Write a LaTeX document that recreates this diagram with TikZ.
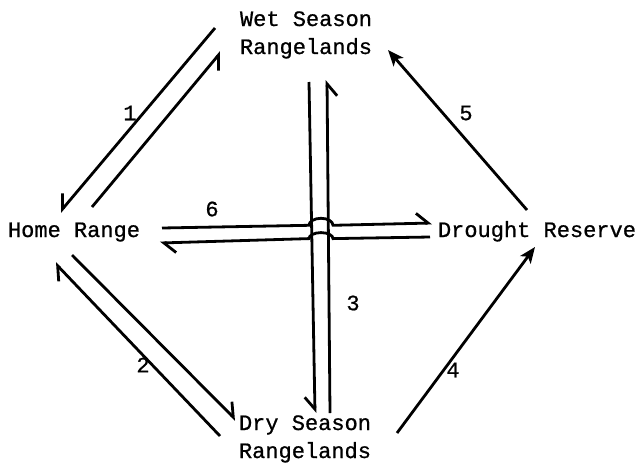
\documentclass[tikz,border=0pt]{standalone}
\usepackage{fontspec}
\newfontfamily\typer[FakeBold=0.8]{Liberation Mono}
\usetikzlibrary{arrows.meta}

\begin{document}
\begin{tikzpicture}[x=1pt,y=-1pt,
  place/.style={font=\typer\fontsize{22}{28}\selectfont,align=center,inner sep=0pt},
  num/.style={font=\typer\fontsize{22}{28}\selectfont,inner sep=0pt},
  flowl/.style={line width=2.8pt,-{Straight Barb[harpoon,length=12pt,width=20pt]}},
  flowr/.style={line width=2.8pt,-{Straight Barb[harpoon,swap,length=12pt,width=20pt]}},
  move/.style={line width=2.8pt,-{Stealth[length=16pt,width=13pt,inset=4pt]}}]
  \useasboundingbox (0,0) rectangle (637,464);
  % the four ranges
  \node[place,anchor=base] (wet) at (306,54) {Wet Season\\Rangelands};
  \node[place,anchor=base] (home) at (74,237) {Home Range};
  \node[place,anchor=base] (drought) at (537,237) {Drought Reserve};
  \node[place,anchor=base] (dry) at (305,458) {Dry Season\\Rangelands};
  % end points of the moves
  \coordinate (a1) at (215,28);  \coordinate (a2) at (60,212);
  \coordinate (b1) at (92,207);  \coordinate (b2) at (221,52);
  \coordinate (c1) at (72,255);  \coordinate (c2) at (236,420);
  \coordinate (d1) at (220,436); \coordinate (d2) at (55,263);
  \coordinate (e1) at (309,82);  \coordinate (e2) at (315,413);
  \coordinate (f1) at (330,413); \coordinate (f2) at (327,80);
  \coordinate (g1) at (162,228); \coordinate (g2) at (432,223);
  \coordinate (h1) at (430,237); \coordinate (h2) at (160,243);
  \coordinate (k1) at (397,433); \coordinate (k2) at (535,247);
  \coordinate (m1) at (527,210); \coordinate (m2) at (388,50);
  % hops where route 6 crosses route 3
  \coordinate (gh) at (309,225.3); \coordinate (hh) at (333,238.6);
  \draw[flowr] (a1)--(a2); \draw[flowr] (b1)--(b2);
  \draw[flowl] (c1)--(c2); \draw[flowl] (d1)--(d2);
  \draw[flowr] (e1)--(e2); \draw[flowr] (f1)--(f2);
  \draw[flowl] (g1)--(gh) arc[start angle=180,end angle=360,x radius=12,y radius=7]--(g2);
  \draw[flowl] (h1)--(hh) arc[start angle=0,end angle=-180,x radius=12,y radius=6]--(h2);
  \draw[move] (k1)--(k2); \draw[move] (m1)--(m2);
  % route numbers
  \node[num] (n1) at (130,113) {1};
  \node[num] (n2) at (143,365) {2};
  \node[num] (n3) at (353,303) {3};
  \node[num] (n4) at (453,370) {4};
  \node[num] (n5) at (466,113) {5};
  \node[num] (n6) at (212,209) {6};
\end{tikzpicture}
\end{document}
